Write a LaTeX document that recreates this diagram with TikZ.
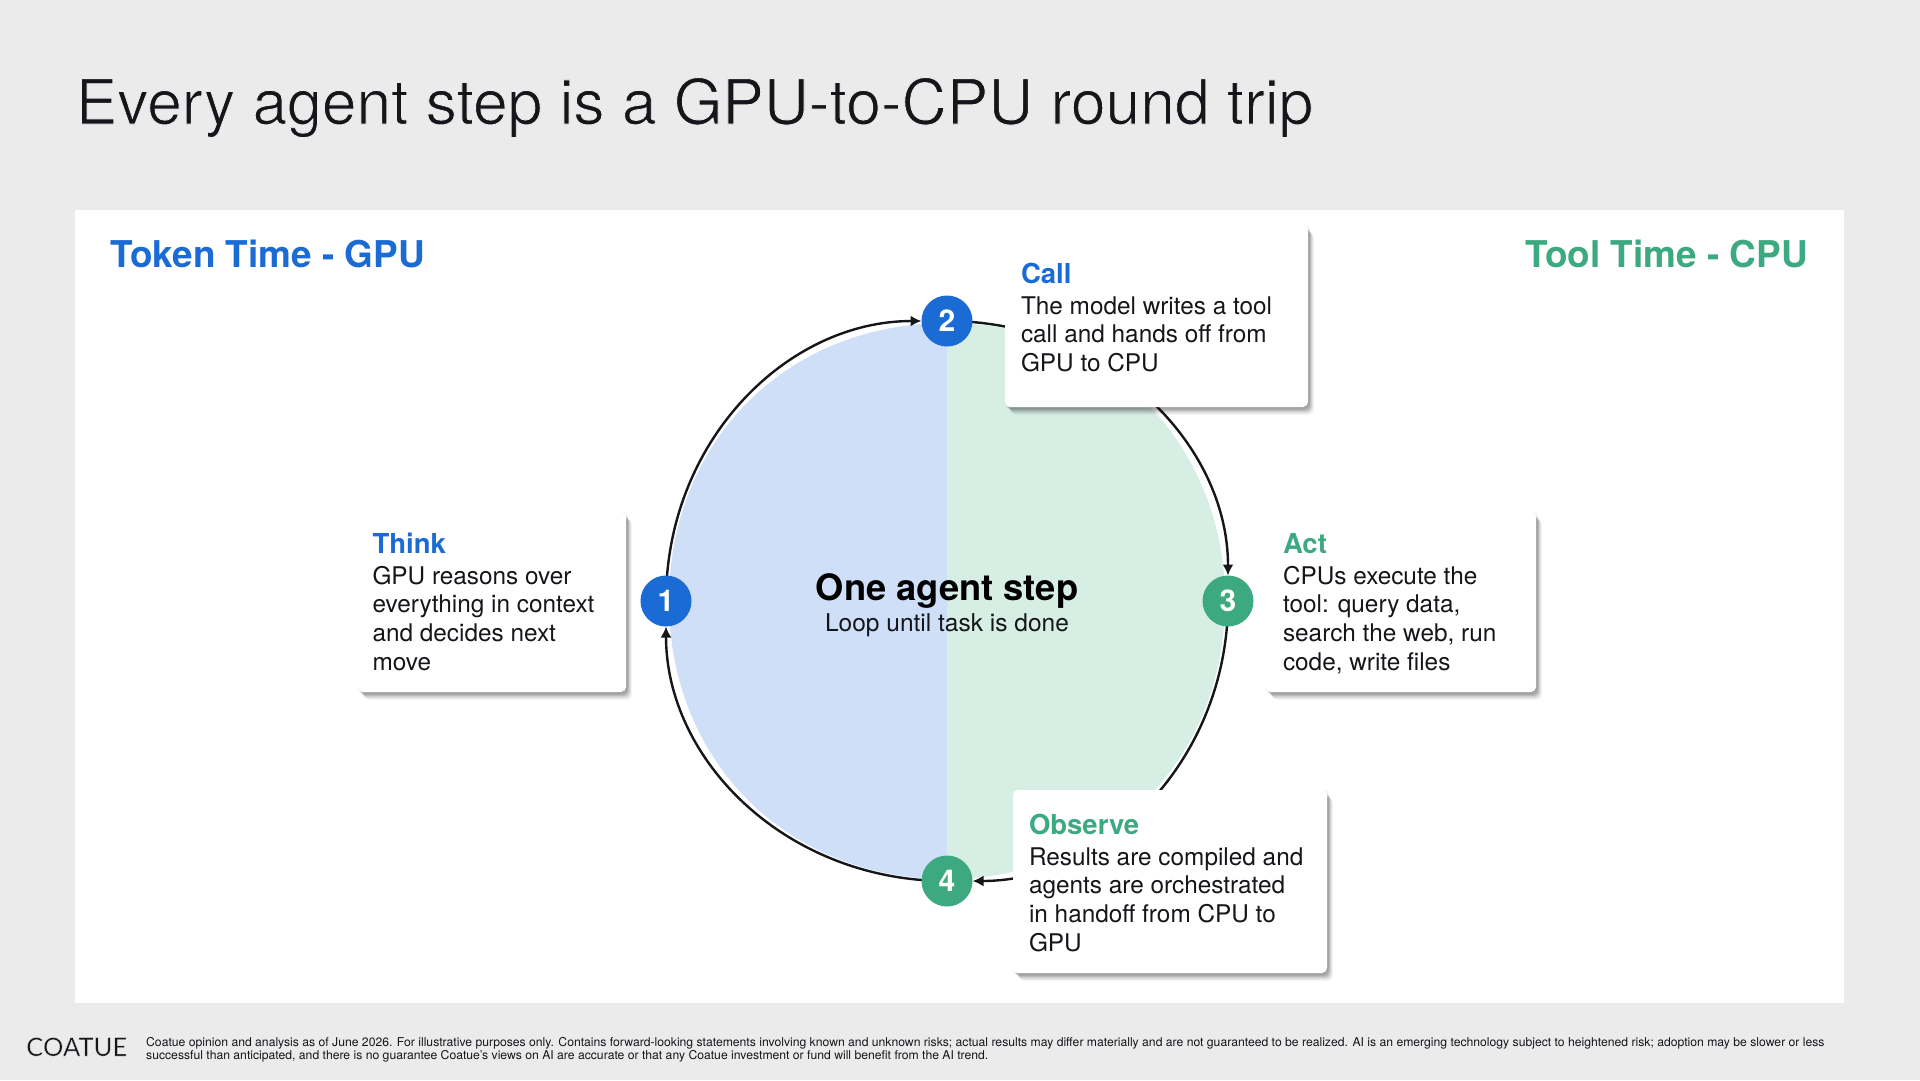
\documentclass[tikz,border=0pt]{standalone}
\usepackage{fontspec}
\setmainfont{TeX Gyre Heros}
\newfontfamily\logofont{Lato}
\usetikzlibrary{arrows.meta,backgrounds}
\definecolor{pagebg}{HTML}{EBEBEC}
\definecolor{gpublue}{HTML}{1A6BD4}
\definecolor{cpugreen}{HTML}{3DA981}
\definecolor{gpufill}{HTML}{CFDFF8}
\definecolor{cpufill}{HTML}{D7EEE5}
\definecolor{inkdark}{HTML}{14161A}
\newcommand{\thinner}[2]{\special{pdf:code q 2 Tr #1 w 0.922 0.922 0.925 RG}#2\special{pdf:code Q}}
\newcommand{\cardtext}[7]{\begin{minipage}[c][#2pt][t]{#1pt}\parindent=0pt\leftskip=#3pt\rightskip=0pt plus 1fil
  {\fontsize{27.5}{29}\selectfont\bfseries\color{#5}\rule{0pt}{#4pt}#6\par}
  \fontsize{24.35}{28.7}\selectfont\vspace{2.3pt}#7\end{minipage}}
\tikzset{
  x=1pt,y=-1pt,
  cardbox/.style={anchor=north west,inner sep=0pt,outer sep=0pt,fill=white,rounded corners=5pt,text=inkdark,
    preaction={fill=black,fill opacity=.05,transform canvas={shift={(0pt,-2pt)}}},
    preaction={fill=black,fill opacity=.05,transform canvas={shift={(2pt,0pt)}}},
    preaction={fill=black,fill opacity=.09,transform canvas={shift={(2pt,-3pt)}}},
    preaction={fill=black,fill opacity=.10,transform canvas={shift={(3pt,-4pt)}}},
    preaction={fill=black,fill opacity=.08,transform canvas={shift={(4pt,-5.5pt)}}},
    preaction={fill=black,fill opacity=.06,transform canvas={shift={(5pt,-6.5pt)}}},
    preaction={fill=black,fill opacity=.04,transform canvas={shift={(6pt,-8pt)}}}},
  stepdot/.style={circle,minimum size=51pt,inner sep=0pt,text=white,font=\fontsize{30}{30}\selectfont\bfseries},
  flow/.style={draw=inkdark,line width=2.4pt,shorten >=25.5pt,-{Latex[length=11pt,width=11pt]}},
  heading/.style={inner sep=0pt,font=\fontsize{36.9}{40}\selectfont\bfseries}
}
\begin{document}
\begin{tikzpicture}
\useasboundingbox (0,0) rectangle (1920,1080);
\node[stepdot,fill=gpublue] (n1) at (666,601) {1};
\node[stepdot,fill=gpublue] (n2) at (947,321) {2};
\node[stepdot,fill=cpugreen] (n3) at (1228,601) {3};
\node[stepdot,fill=cpugreen] (n4) at (947,881) {4};
\begin{scope}[on background layer]
\fill[pagebg] (0,0) rectangle (1920,1080);
\fill[white] (75,210) rectangle (1844,1003);
\fill[gpufill] (947,323) .. controls +(-160,0) and +(0,-160) .. (669,601) .. controls +(0,160) and +(-160,0) .. (947,879) -- cycle;
\fill[cpufill] (947,323) .. controls +(159,0) and +(0,-159) .. (1225,601) .. controls +(0,159) and +(159,0) .. (947,879) -- cycle;
\draw[flow] (n1.center) .. controls +(0,-160) and +(-160,0) .. (n2.center);
\draw[flow] (n2.center) .. controls +(158.5,0) and +(0,-158.5) .. (n3.center);
\draw[flow] (n3.center) .. controls +(0,158.5) and +(158.5,0) .. (n4.center);
\draw[flow] (n4.center) .. controls +(-160,0) and +(0,160) .. (n1.center);
\end{scope}
\node[inner sep=0pt,anchor=base west,text=inkdark,font=\fontsize{62.3}{66}\selectfont] (title) at (75.5,124) {\thinner{0.9}{Every agent step is a GPU-to-CPU round trip}};
\node[heading,anchor=base west,text=gpublue] (tokenhead) at (110,267) {Token Time - GPU};
\node[heading,anchor=base east,text=cpugreen] (toolhead) at (1808,267) {Tool Time - CPU};
\node[inner sep=0pt,anchor=base,text=black,font=\fontsize{36.3}{40}\selectfont\bfseries] (hubhead) at (947,600) {One agent step};
\node[inner sep=0pt,anchor=base,text=inkdark,font=\fontsize{24.5}{28}\selectfont] (hubsub) at (947,631) {Loop until task is done};
\node[cardbox] (think) at (358,512) {\cardtext{268}{180}{14.5}{41}{gpublue}{Think}{GPU reasons over\\everything in context\\and decides next\\move}};
\node[cardbox] (call) at (1005,225) {\cardtext{303}{182}{16}{58}{gpublue}{Call}{The model writes a tool\\call and hands off from\\GPU to CPU}};
\node[cardbox] (act) at (1266,512) {\cardtext{270}{180}{17}{41}{cpugreen}{Act}{CPUs execute the\\tool: query data,\\search the web, run\\code, write files}};
\node[cardbox] (observe) at (1013,790) {\cardtext{314}{183}{16}{44}{cpugreen}{Observe}{Results are compiled and\\agents are orchestrated\\in handoff from CPU to\\GPU}};
\node[inner sep=0pt,anchor=base west,text=inkdark,font=\logofont\fontsize{25.6}{28}\selectfont] (logo) at (26,1056) {\thinner{0.3}{COATUE}};
\node[inner sep=0pt,anchor=north west,align=left,text=inkdark,font=\fontsize{12.18}{13}\selectfont] (legal) at (146,1037.5) {Coatue opinion and analysis as of June 2026. For illustrative purposes only. Contains forward-looking statements involving known and unknown risks; actual results may differ materially and are not guaranteed to be realized. AI is an emerging technology subject to heightened risk; adoption may be slower or less\\successful than anticipated, and there is no guarantee Coatue's views on AI are accurate or that any Coatue investment or fund will benefit from the AI trend.};
\end{tikzpicture}
\end{document}
